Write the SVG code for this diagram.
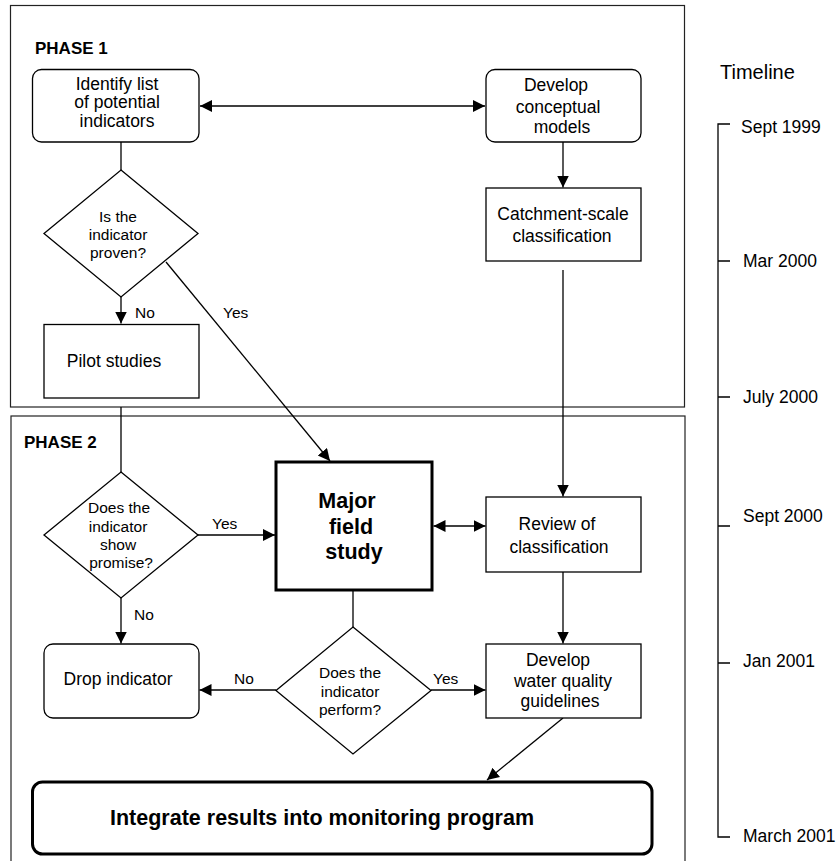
<svg xmlns="http://www.w3.org/2000/svg" width="837" height="861" viewBox="0 0 837 861">
<defs>
<marker id="ah" markerUnits="userSpaceOnUse" markerWidth="13" markerHeight="13" refX="12" refY="6" orient="auto-start-reverse">
<path d="M0,0 L12,6 L0,12 z" fill="#000"/>
</marker>
</defs>
<style>
text{font-family:"Liberation Sans",Arial,sans-serif;fill:#000}
.t{font-size:17.5px;text-anchor:middle}
.d{font-size:15.5px;text-anchor:middle}
.l{font-size:15.5px}
.ph{font-size:17px;font-weight:bold}
.tl{font-size:17.5px}
.box{fill:#fff;stroke:#000;stroke-width:1.3}
.thick{fill:#fff;stroke:#000;stroke-width:3}
.frame{fill:none;stroke:#222;stroke-width:1.2}
.c{fill:none;stroke:#000;stroke-width:1.3}
.a{marker-end:url(#ah)}
.aa{marker-start:url(#ah);marker-end:url(#ah)}
</style>
<rect width="837" height="861" fill="#fff"/>
<g id="phase1">
<rect class="frame" x="10.5" y="5.5" width="674" height="401.5"/>
<text class="ph" x="35" y="54">PHASE 1</text>
</g>
<g id="phase2">
<rect class="frame" x="11" y="416" width="674" height="460"/>
<text class="ph" x="24" y="448">PHASE 2</text>
</g>
<g id="connectors">
<line class="c aa" x1="200" y1="106" x2="485" y2="106"/>
<line class="c" x1="121" y1="142" x2="121" y2="170"/>
<line class="c a" x1="121" y1="297" x2="121" y2="323.5"/>
<line class="c a" x1="166" y1="262" x2="330" y2="461"/>
<line class="c a" x1="563" y1="142" x2="563" y2="187.5"/>
<line class="c a" x1="563" y1="270" x2="563" y2="496.5"/>
<line class="c" x1="121" y1="407" x2="121" y2="472"/>
<line class="c a" x1="198" y1="535" x2="275" y2="535"/>
<line class="c a" x1="121" y1="598" x2="121" y2="643.5"/>
<line class="c aa" x1="433.5" y1="526" x2="485.5" y2="526"/>
<line class="c" x1="353" y1="590" x2="353" y2="627"/>
<line class="c a" x1="276" y1="690" x2="199.5" y2="690"/>
<line class="c a" x1="431" y1="690" x2="485.5" y2="690"/>
<line class="c a" x1="563" y1="572" x2="563" y2="643.5"/>
<line class="c a" x1="563" y1="718" x2="487" y2="780"/>
<text class="l" x="135" y="318">No</text>
<text class="l" x="223" y="318">Yes</text>
<text class="l" x="212" y="529">Yes</text>
<text class="l" x="134" y="620">No</text>
<text class="l" x="234" y="684">No</text>
<text class="l" x="433" y="684">Yes</text>
</g>
<g id="identify">
<rect class="box" x="32.5" y="69.5" width="166.5" height="72.5" rx="9"/>
<text class="t" x="117" y="90">Identify list</text>
<text class="t" x="117" y="108">of potential</text>
<text class="t" x="117" y="127">indicators</text>
</g>
<g id="develop-models">
<rect class="box" x="486" y="69.5" width="155" height="72.5" rx="9"/>
<text class="t" x="556" y="91">Develop</text>
<text class="t" x="558" y="113">conceptual</text>
<text class="t" x="562" y="133">models</text>
</g>
<g id="proven">
<polygon class="box" points="121,170 198,233.5 121,297 44,233.5"/>
<text class="d" x="118" y="222">Is the</text>
<text class="d" x="118" y="240">indicator</text>
<text class="d" x="118" y="258">proven?</text>
</g>
<g id="catchment">
<rect class="box" x="486" y="188" width="155" height="73"/>
<text class="t" x="563" y="220">Catchment-scale</text>
<text class="t" x="562" y="242">classification</text>
</g>
<g id="pilot">
<rect class="box" x="44" y="324.5" width="155" height="73.5"/>
<text class="t" x="114" y="367">Pilot studies</text>
</g>
<g id="promise">
<polygon class="box" points="121,472 198,535 121,598 44,535"/>
<text class="d" x="119" y="513">Does the</text>
<text class="d" x="118" y="532">indicator</text>
<text class="d" x="118" y="550">show</text>
<text class="d" x="121" y="568">promise?</text>
</g>
<g id="major">
<rect class="thick" x="276" y="462" width="156" height="128"/>
<text style="font-size:21.5px;font-weight:bold;text-anchor:middle" x="347" y="508">Major</text>
<text style="font-size:21.5px;font-weight:bold;text-anchor:middle" x="351" y="534">field</text>
<text style="font-size:21.5px;font-weight:bold;text-anchor:middle" x="354" y="559">study</text>
</g>
<g id="review">
<rect class="box" x="486" y="497" width="155" height="75"/>
<text class="t" x="557" y="530">Review of</text>
<text class="t" x="559" y="553">classification</text>
</g>
<g id="perform">
<polygon class="box" points="353,627 431,690.5 353,754 276,690.5"/>
<text class="d" x="350" y="678">Does the</text>
<text class="d" x="350" y="697">indicator</text>
<text class="d" x="350" y="715">perform?</text>
</g>
<g id="drop">
<rect class="box" x="44" y="644" width="155" height="74" rx="9"/>
<text class="t" x="118" y="685">Drop indicator</text>
</g>
<g id="guidelines">
<rect class="box" x="486" y="644" width="155" height="74"/>
<text class="t" x="558" y="666">Develop</text>
<text class="t" x="563" y="687">water quality</text>
<text class="t" x="560" y="707">guidelines</text>
</g>
<g id="integrate">
<rect class="thick" x="32.5" y="782" width="619.5" height="72" rx="10"/>
<text style="font-size:21.5px;font-weight:bold" x="110" y="825">Integrate results into monitoring program</text>
</g>
<g id="timeline">
<text style="font-size:20px" x="720" y="79">Timeline</text>
<path class="c" d="M730,124 H718 V837 H730 M718,261 H730 M718,397 H730 M718,526 H730 M718,663 H730"/>
<text class="tl" x="741" y="133">Sept 1999</text>
<text class="tl" x="743" y="267">Mar 2000</text>
<text class="tl" x="743" y="403">July 2000</text>
<text class="tl" x="743" y="522">Sept 2000</text>
<text class="tl" x="743" y="667">Jan 2001</text>
<text class="tl" x="743" y="842">March 2001</text>
</g>
</svg>
